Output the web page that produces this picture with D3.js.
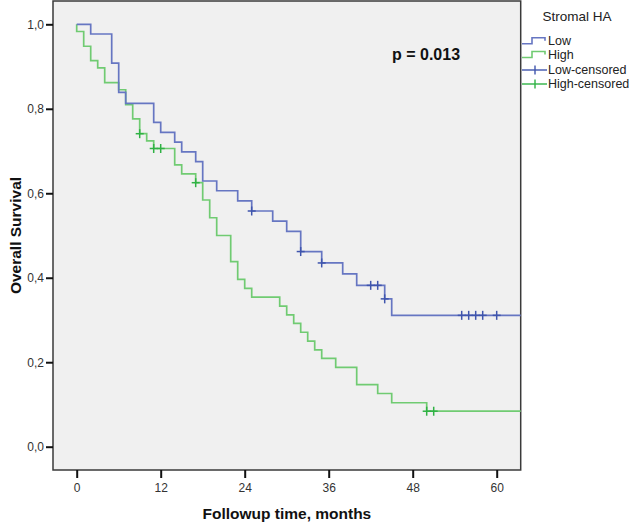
<!DOCTYPE html>
<html>
<head>
<meta charset="utf-8">
<script src="https://cdn.jsdelivr.net/npm/d3@7"></script>
<style>
  html, body { margin: 0; padding: 0; background: #fff; }
  svg { display: block; font-family: "Liberation Sans", Arial, sans-serif; }
</style>
</head>
<body>
<svg id="chart" width="629" height="524"></svg>
<script>
// ---- data ----
const lowTimes     = [0, 2, 5, 6, 7, 11, 12, 14, 15, 17, 18, 20, 23, 25, 28, 30, 32, 35, 38, 40, 44, 45];
const lowSurvival  = [1.0, 0.977, 0.908, 0.839, 0.813, 0.768, 0.744, 0.721, 0.698, 0.675, 0.629, 0.606, 0.582, 0.558, 0.534, 0.510, 0.462, 0.435, 0.409, 0.382, 0.350, 0.311];
const lowCensored  = [25, 32, 35, 42, 43, 44, 55, 56, 57, 58, 60];

const highTimes    = [0, 0, 1, 2, 3, 4, 6, 7, 8, 9, 10, 11, 14, 15, 17, 18, 19, 20, 22, 23, 24, 25, 29, 30, 31, 32, 33, 34, 35, 37, 40, 43, 45, 50];
const highSurvival = [1.0, 0.983, 0.948, 0.914, 0.897, 0.862, 0.845, 0.810, 0.776, 0.741, 0.724, 0.706, 0.667, 0.646, 0.625, 0.584, 0.542, 0.500, 0.438, 0.396, 0.375, 0.354, 0.333, 0.312, 0.292, 0.271, 0.250, 0.229, 0.209, 0.188, 0.147, 0.126, 0.104, 0.084];
const highCensored = [9, 11, 12, 17, 50, 51];

const xTicks = [0, 12, 24, 36, 48, 60];
const yTicks = [0, 0.2, 0.4, 0.6, 0.8, 1.0];
const groupNames = ["Low", "High"];
const legendLabels = ["Low", "High", "Low-censored", "High-censored"];
const legendTitle = "Stromal HA";
const pText = "p = 0.013";
const xTitle = "Followup time, months";
const yTitle = "Overall Survival";

// ---- layout ----
const svg = d3.select("#chart");
const frame = { left: 53, right: 520.7, top: 1, bottom: 470 };
const x = d3.scaleLinear().domain([0, 60]).range([76.7, 496.7]);
const y = d3.scaleLinear().domain([0, 1]).range([446.7, 24.3]);
const xMax = x.invert(frame.right);

const colors = {
  Low:  { line: "#6676c2", mark: "#3f55ad" },
  High: { line: "#70cb72", mark: "#2fb244" }
};

// frame
svg.append("rect")
  .attr("x", frame.left).attr("y", frame.top)
  .attr("width", frame.right - frame.left).attr("height", frame.bottom - frame.top)
  .attr("fill", "#f0f0f0").attr("stroke", "#3a3a3a").attr("stroke-width", 1.5);

// axes
const xAxis = d3.axisBottom(x).tickValues(xTicks).tickSize(8).tickPadding(5)
  .tickFormat(d => String(d));
const gx = svg.append("g").attr("transform", `translate(0,${frame.bottom})`).call(xAxis);
gx.select(".domain").remove();
gx.selectAll(".tick line").attr("stroke", "#111").attr("stroke-width", 2);
gx.selectAll(".tick text").attr("fill", "#333").attr("font-size", 12)
  .attr("font-family", "'Liberation Sans', Arial, sans-serif");

const yAxis = d3.axisLeft(y).tickValues(yTicks).tickSize(7).tickPadding(2)
  .tickFormat(d => d3.format(".1f")(d).replace(".", ","));
const gy = svg.append("g").attr("transform", `translate(${frame.left},0)`).call(yAxis);
gy.select(".domain").remove();
gy.selectAll(".tick line").attr("stroke", "#111").attr("stroke-width", 2);
gy.selectAll(".tick text").attr("fill", "#333").attr("font-size", 12)
  .attr("font-family", "'Liberation Sans', Arial, sans-serif");

// curves
const line = d3.line().x(d => x(d[0])).y(d => y(d[1])).curve(d3.curveStepAfter);
function series(times, surv) {
  const pts = times.map((t, i) => [t, surv[i]]);
  pts.push([xMax, surv[surv.length - 1]]);
  return pts;
}
function survAt(times, surv, t) {
  let s = surv[0];
  for (let i = 0; i < times.length; i++) if (times[i] <= t) s = surv[i];
  return s;
}
const groups = [
  { name: "Low", times: lowTimes, surv: lowSurvival, cens: lowCensored },
  { name: "High", times: highTimes, surv: highSurvival, cens: highCensored }
];
// draw high first then low (low on top like reference)
[groups[1], groups[0]].forEach(g => {
  svg.append("path")
    .datum(series(g.times, g.surv))
    .attr("d", line)
    .attr("fill", "none")
    .attr("stroke", colors[g.name].line)
    .attr("stroke-width", 1.7);
});
groups.forEach(g => {
  const c = colors[g.name].mark;
  const gm = svg.append("g");
  g.cens.forEach(t => {
    const cx = x(t), cy = y(survAt(g.times, g.surv, t));
    gm.append("line").attr("x1", cx - 4).attr("x2", cx + 4).attr("y1", cy).attr("y2", cy)
      .attr("stroke", c).attr("stroke-width", 1.5);
    gm.append("line").attr("x1", cx).attr("x2", cx).attr("y1", cy - 4.5).attr("y2", cy + 4.5)
      .attr("stroke", c).attr("stroke-width", 1.5);
  });
});

// p value
svg.append("text").attr("x", 392).attr("y", 60)
  .attr("font-size", 16).attr("font-weight", "bold").attr("fill", "#111").text(pText);

// axis titles
svg.append("text").attr("x", (frame.left + frame.right) / 2).attr("y", 519)
  .attr("text-anchor", "middle").attr("font-size", 15.5).attr("font-weight", "bold")
  .attr("fill", "#111").text(xTitle);
svg.append("text").attr("transform", `translate(21,${(frame.top + frame.bottom) / 2}) rotate(-90)`)
  .attr("text-anchor", "middle").attr("font-size", 15.5).attr("font-weight", "bold")
  .attr("fill", "#111").text(yTitle);

// legend
const lg = svg.append("g");
lg.append("text").attr("x", 577).attr("y", 21).attr("text-anchor", "middle")
  .attr("font-size", 13.5).attr("fill", "#222").text(legendTitle);
const legendY = [40.7, 54.5, 70, 84];
const legendColors = [colors.Low, colors.High, colors.Low, colors.High];
legendLabels.forEach((lab, i) => {
  const cy = legendY[i];
  const col = legendColors[i];
  if (i < 2) {
    lg.append("path")
      .attr("d", `M522,${cy + 3}H532V${cy - 3}H545V${cy}`)
      .attr("fill", "none").attr("stroke", col.line).attr("stroke-width", 1.6);
  } else {
    lg.append("line").attr("x1", 522).attr("x2", 547).attr("y1", cy).attr("y2", cy)
      .attr("stroke", col.mark).attr("stroke-width", 1.4);
    lg.append("line").attr("x1", 535).attr("x2", 535).attr("y1", cy - 4.5).attr("y2", cy + 4.5)
      .attr("stroke", col.mark).attr("stroke-width", 1.4);
  }
  lg.append("text").attr("x", 548).attr("y", cy).attr("dy", "0.35em")
    .attr("font-size", 12.5).attr("fill", "#222").text(lab);
});
</script>
</body>
</html>
